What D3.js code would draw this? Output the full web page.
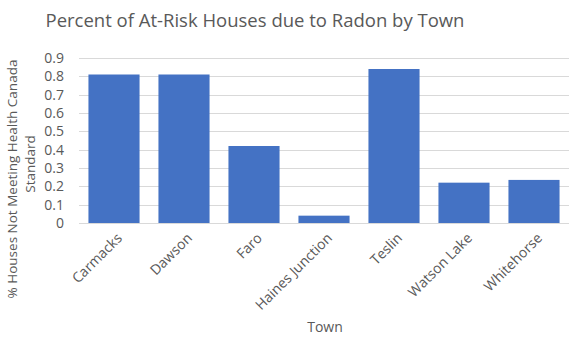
<!DOCTYPE html>
<html>
<head>
<meta charset="utf-8">
<script src="https://cdn.jsdelivr.net/npm/d3@7"></script>
<style>
  body { margin: 0; background: #fff; }
  text { font-family: "Open Sans", "Noto Sans", sans-serif; fill: #595959; }
</style>
</head>
<body>
<div class="chart"></div>
<script>
let towns = ['Carmacks', 'Dawson', 'Faro', 'Haines Junction', 'Teslin', 'Watson Lake', 'Whitehorse'];
let atRisk = [0.81, 0.81, 0.42, 0.04, 0.84, 0.22, 0.235];
let yTicks = [0, 0.1, 0.2, 0.3, 0.4, 0.5, 0.6, 0.7, 0.8, 0.9];

let W = 579, H = 360;
let margin = { top: 58, right: 10, bottom: 137, left: 79 };
let width = W - margin.left - margin.right;
let height = H - margin.top - margin.bottom;

let root = d3.select('.chart')
  .append('svg')
    .attr('width', W)
    .attr('height', H);

let svg = root.append('g')
    .attr('transform', `translate(${margin.left}, ${margin.top})`);

let xScale = d3.scaleBand()
  .domain(towns)
  .range([0, width])
  .paddingInner(0.27)
  .paddingOuter(0.135);

let yScale = d3.scaleLinear()
  .domain([0, 0.9])
  .range([height, 0]);

// gridlines
svg.append('g')
  .selectAll('line')
  .data(yTicks)
  .join('line')
    .attr('x1', 0)
    .attr('x2', width)
    .attr('y1', d => Math.round(yScale(d)) + 0.5)
    .attr('y2', d => Math.round(yScale(d)) + 0.5)
    .style('stroke', '#d9d9d9')
    .style('stroke-width', 1);

// bars
svg.append('g')
  .selectAll('rect')
  .data(atRisk)
  .join('rect')
    .attr('x', (d, i) => xScale(towns[i]))
    .attr('y', d => yScale(d))
    .attr('width', xScale.bandwidth())
    .attr('height', d => height - yScale(d))
    .style('fill', '#4472c4');

// y axis
let yAxis = d3.axisLeft(yScale)
  .tickValues(yTicks)
  .tickFormat(d => d === 0 ? '0' : d3.format('.1f')(d))
  .tickSize(0)
  .tickPadding(15);

svg.append('g')
  .call(yAxis)
  .call(g => g.select('.domain').remove())
  .selectAll('text')
    .style('font-size', '14px')
    .style('fill', '#595959');

// x axis
let xAxis = d3.axisBottom(xScale).tickSize(0).tickPadding(0);

svg.append('g')
    .attr('transform', `translate(0, ${height})`)
  .call(xAxis)
  .call(g => g.select('.domain').remove())
  .selectAll('text')
    .style('font-size', '14px')
    .style('fill', '#595959')
    .attr('text-anchor', 'end')
    .attr('dy', '0')
    .attr('transform', 'translate(9, 16) rotate(-45)');

// title
root.append('text')
  .attr('x', 255)
  .attr('y', 27)
  .attr('text-anchor', 'middle')
  .style('font-size', '18.5px')
  .text('Percent of At-Risk Houses due to Radon by Town');

// axis titles
root.append('text')
  .attr('transform', 'translate(17, 179) rotate(-90)')
  .attr('text-anchor', 'middle')
  .style('font-size', '13.5px')
  .text('% Houses Not Meeting Health Canada');

root.append('text')
  .attr('transform', 'translate(35, 164) rotate(-90)')
  .attr('text-anchor', 'middle')
  .style('font-size', '13.5px')
  .text('Standard');

root.append('text')
  .attr('x', 325)
  .attr('y', 332)
  .attr('text-anchor', 'middle')
  .style('font-size', '14px')
  .text('Town');
</script>
</body>
</html>
